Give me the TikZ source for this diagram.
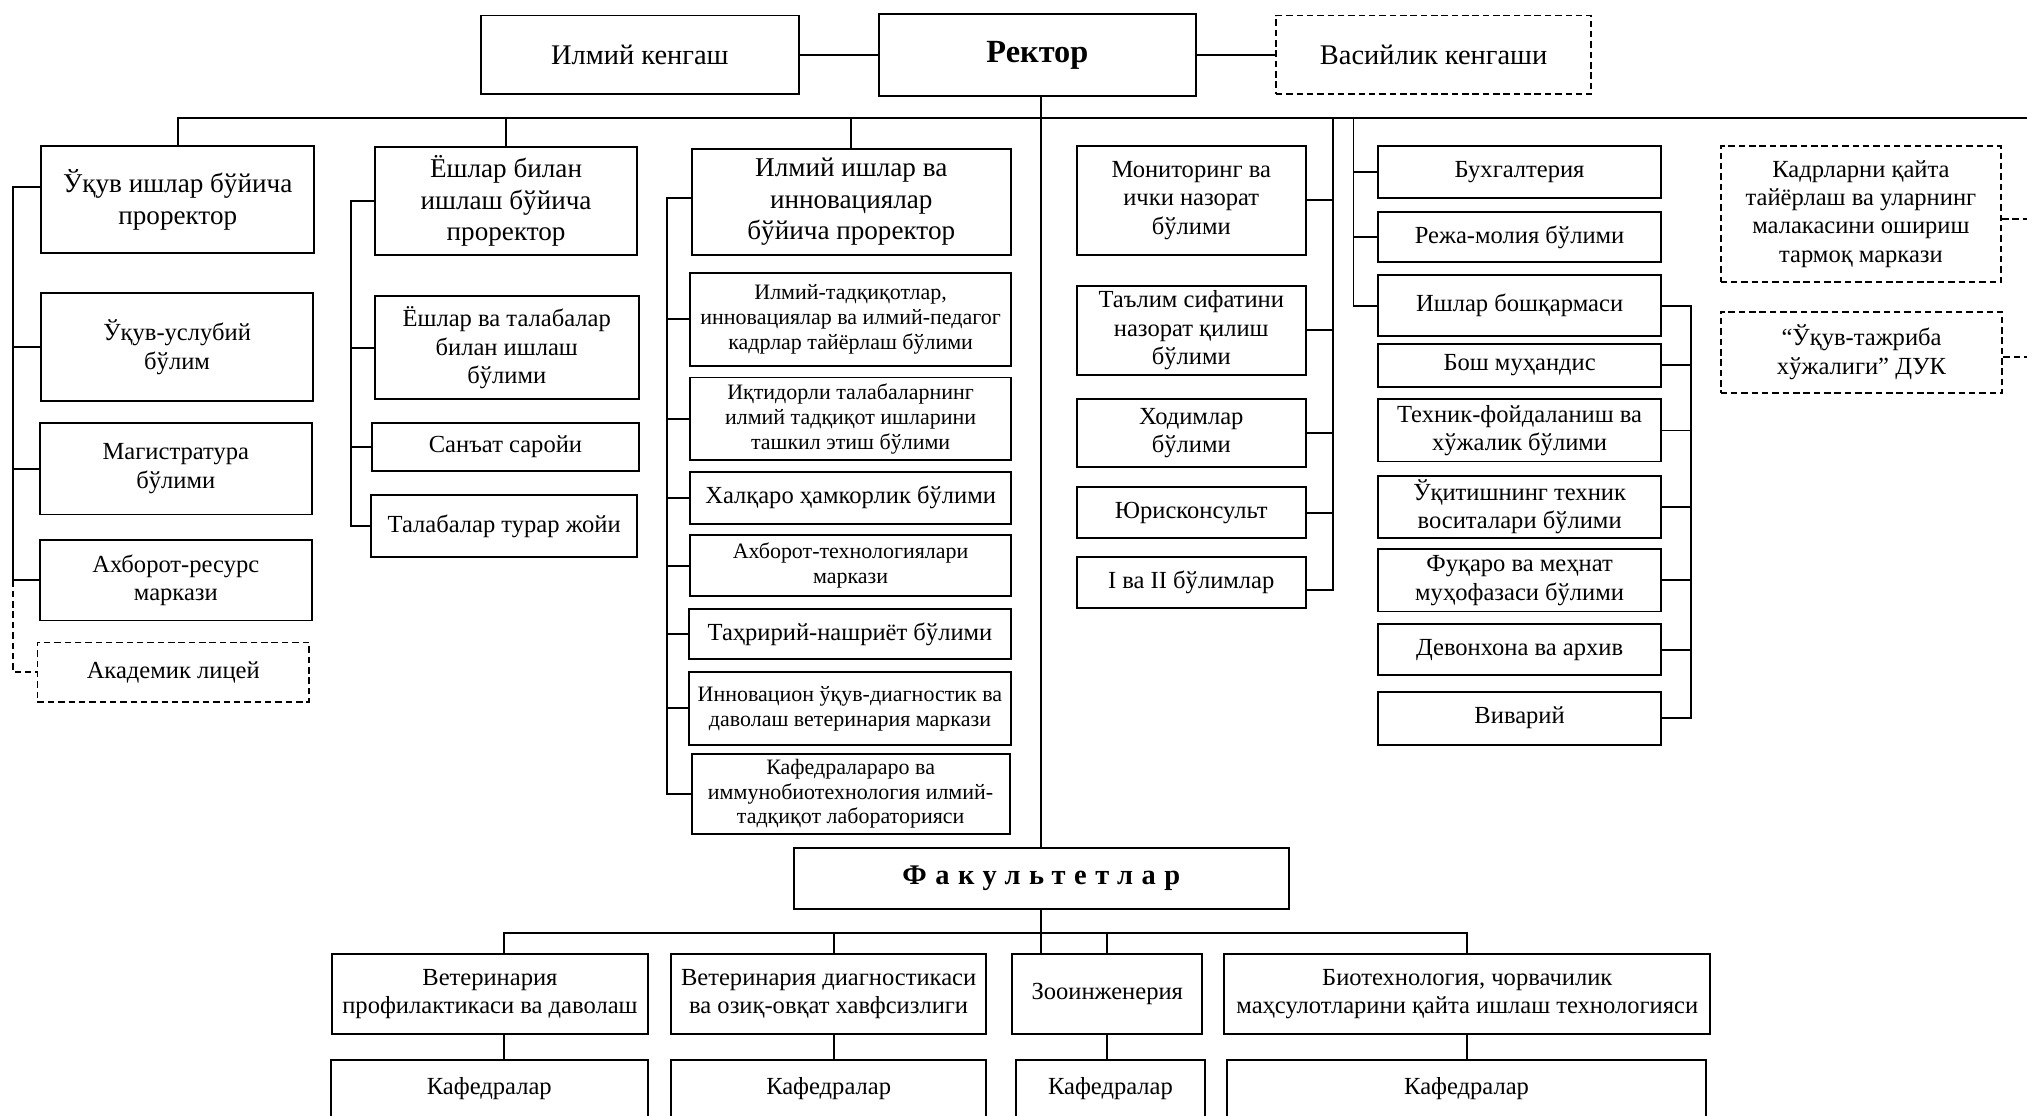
\documentclass[tikz,border=0pt]{standalone}
\usepackage{fontspec}
\setmainfont{Liberation Serif}
\usetikzlibrary{calc}
% box from its corners (x1,y1)--(x2,y2)
\newcommand{\bx}[7][]{%
  \node[box,#1,minimum width=#5*0.5pt-#3*0.5pt,minimum height=#6*0.5pt-#4*0.5pt]
    (#2) at ({(#3+#5)/2},{(#4+#6)/2}) {#7};}

\begin{document}
\begin{tikzpicture}[x=0.5pt,y=-0.5pt,
  box/.style={draw,line width=0.75pt,align=center,inner sep=1pt,font=\fontsize{9.5}{11}\selectfont},
  dbox/.style={dash pattern=on 2.5pt off 1.5pt},
  big/.style={font=\fontsize{11}{13}\selectfont},
  head/.style={font=\fontsize{12.5}{14}\selectfont\bfseries},
  spaced/.style={font=\fontsize{11}{13}\selectfont\bfseries\addfontfeature{LetterSpace=30}},
  pro/.style={font=\fontsize{10.5}{12.3}\selectfont},
  small/.style={font=\fontsize{8.5}{9.6}\selectfont},
  cut/.style={text height=7pt,text depth=12pt},
  link/.style={line width=0.75pt},
  dlink/.style={link,dash pattern=on 2.5pt off 1.5pt}]
  \useasboundingbox (0,0) rectangle (1568,863);
  \clip (0,0) rectangle (1568,863);
  % top row
  \bx[big]{ik}{372}{12}{618}{73}{Илмий кенгаш}
  \bx[head]{rector}{680}{11}{925}{74}{Ректор}
  \bx[big,dbox]{vas}{987}{12}{1231}{73}{Васийлик кенгаши}
  % prorectors
  \bx[pro]{pr1}{32}{113}{243}{196}{Ўқув ишлар бўйича\\проректор}
  \bx[pro]{pr2}{290}{114}{493}{197}{Ёшлар билан\\ишлаш бўйича\\проректор}
  \bx[pro]{pr3}{535}{115}{782}{197}{Илмий ишлар ва\\инновациялар\\бўйича проректор}
  % first column
  \bx{u1}{32}{227}{242}{310}{Ўқув-услубий\\бўлим}
  \bx{u2}{31}{327}{241}{398}{Магистратура\\бўлими}
  \bx{u3}{31}{418}{241}{480}{Ахборот-ресурс\\маркази}
  \bx[dbox]{u4}{29}{497}{239}{543}{Академик лицей}
  % second column
  \bx{y1}{290}{229}{494}{309}{Ёшлар ва талабалар\\билан ишлаш\\бўлими}
  \bx{y2}{288}{327}{494}{364}{Санъат саройи}
  \bx{y3}{287}{383}{493}{431}{Талабалар турар жойи}
  % third column
  \bx[small]{s1}{534}{211}{782}{283}{Илмий-тадқиқотлар,\\инновациялар ва илмий-педагог\\кадрлар тайёрлаш бўлими}
  \bx[small]{s2}{534}{292}{782}{356}{Иқтидорли талабаларнинг\\илмий тадқиқот ишларини\\ташкил этиш бўлими}
  \bx{s3}{534}{365}{782}{405}{Халқаро ҳамкорлик бўлими}
  \bx[small]{s4}{534}{414}{782}{461}{Ахборот-технологиялари\\маркази}
  \bx{s5}{533}{471}{782}{510}{Таҳририй-нашриёт бўлими}
  \bx[small]{s6}{533}{520}{782}{576}{Инновацион ўқув-диагностик ва\\даволаш ветеринария маркази}
  \bx[small]{s7}{535}{583}{781}{645}{Кафедралараро ва\\иммунобиотехнология илмий-\\тадқиқот лабораторияси}
  % monitoring column
  \bx{m1}{833}{113}{1010}{197}{Мониторинг ва\\ички назорат\\бўлими}
  \bx{m2}{833}{221}{1010}{290}{Таълим сифатини\\назорат қилиш\\бўлими}
  \bx{m3}{833}{309}{1010}{361}{Ходимлар\\бўлими}
  \bx{m4}{833}{377}{1010}{416}{Юрисконсульт}
  \bx{m5}{833}{431}{1010}{470}{I ва II бўлимлар}
  % right column
  \bx{r1}{1066}{113}{1285}{153}{Бухгалтерия}
  \bx{r2}{1066}{164}{1285}{203}{Режа-молия бўлими}
  \bx{r3}{1066}{213}{1285}{260}{Ишлар бошқармаси}
  \bx{r4}{1066}{266}{1285}{299}{Бош муҳандис}
  \bx{r5}{1066}{309}{1285}{357}{Техник-фойдаланиш ва\\хўжалик бўлими}
  \bx{r6}{1066}{368}{1285}{416}{Ўқитишнинг техник\\воситалари бўлими}
  \bx{r7}{1066}{425}{1285}{473}{Фуқаро ва меҳнат\\муҳофазаси бўлими}
  \bx{r8}{1066}{483}{1285}{522}{Девонхона ва архив}
  \bx{r9}{1066}{535}{1285}{576}{Виварий}
  % dashed centres
  \bx[dbox]{d1}{1331}{113}{1548}{218}{Кадрларни қайта\\тайёрлаш ва уларнинг\\малакасини ошириш\\тармоқ маркази}
  \bx[dbox]{d2}{1331}{241}{1549}{304}{“Ўқув-тажриба\\хўжалиги” ДУК}
  % faculties
  \bx[spaced]{fac}{614}{656}{997}{703}{Факультетлар}
  \bx{f1}{257}{738}{501}{800}{Ветеринария\\профилактикаси ва даволаш}
  \bx{f2}{519}{738}{763}{800}{Ветеринария диагностикаси\\ва озиқ-овқат хавфсизлиги}
  \bx{f3}{783}{738}{930}{800}{Зооинженерия}
  \bx{f4}{947}{738}{1323}{800}{Биотехнология, чорвачилик\\маҳсулотларини қайта ишлаш технологияси}
  \bx[cut]{k1}{256}{820}{501}{884}{Кафедралар}
  \bx[cut]{k2}{519}{820}{763}{884}{Кафедралар}
  \bx[cut]{k3}{786}{820}{932}{884}{Кафедралар}
  \bx[cut]{k4}{949}{820}{1320}{884}{Кафедралар}

  % links
  \coordinate (bus) at (1568,91);
  \coordinate (edge) at (1568,0);
  \draw[link] (ik) -- (rector);
  \draw[link] (rector) -- (vas);
  \draw[link] (pr1.north) |- (bus);
  \foreach \n in {pr2,pr3} \draw[link] (\n.north) -- (\n.north |- bus);
  \draw[link] (fac.north |- rector.south) -- (fac.north);
  % brackets of the prorectors
  \draw[link] ([yshift=5pt]pr1.west) -- ++(-21,0) coordinate (c1) |- (u3.west);
  \foreach \n in {u1,u2} \draw[link] (\n.west) -- (\n.west -| c1);
  \draw[dlink] (c1 |- u3.west) |- (u4.west);
  \draw[link] (pr2.west) -- ++(-18,0) coordinate (c2) |- (y3.west);
  \foreach \n in {y1,y2} \draw[link] (\n.west) -- (\n.west -| c2);
  \draw[link] ([yshift=1.5pt]pr3.west) -- ++(-18,0) coordinate (c3) |- (s7.west);
  \foreach \i in {1,...,6} \draw[link] (s\i.west) -- (s\i.west -| c3);
  % monitoring
  \coordinate (mb) at (1031,91);
  \draw[link] (mb) |- ([yshift=-3pt]m5.east);
  \foreach \i in {1,...,4} \draw[link] (m\i.east) -- (m\i.east -| mb);
  % right column
  \coordinate (rb) at (1047,91);
  \draw[link] (rb) |- (r3.west);
  \foreach \i in {1,2} \draw[link] (r\i.west) -- (r\i.west -| rb);
  \draw[link] (r3.east) -- ++(22,0) coordinate (c5) |- (r9.east);
  \foreach \i in {4,...,8} \draw[link] (r\i.east) -- (r\i.east -| c5);
  \foreach \n in {d1,d2} \draw[dlink] ([yshift=-2pt]\n.east) coordinate (t) -- (t -| edge);
  % faculties
  \coordinate (fb) at (0,722);
  \draw[link] ([xshift=5.5pt]f1.north) coordinate (t1) -- (t1 |- fb) -| (f4.north);
  \draw[link] ([xshift=2pt]f2.north) coordinate (t2) -- (t2 |- fb);
  \draw[link] (fac.south) -- (fac.south |- f3.north);
  \draw[link] (f3.north) -- (f3.north |- fb);
  \draw[link] (t1 |- f1.south) -- (t1 |- k1.north);
  \draw[link] (t2 |- f2.south) -- (t2 |- k2.north);
  \draw[link] (f3.south) -- (f3.south |- k3.north);
  \draw[link] (f4.south) -- (f4.south |- k4.north);
\end{tikzpicture}
\end{document}
